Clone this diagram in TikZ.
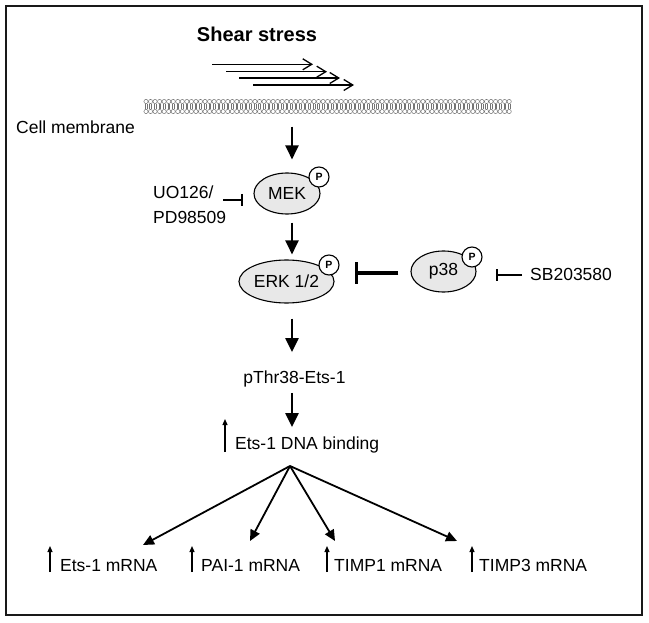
\documentclass[tikz,border=0pt]{standalone}
\usepackage{fontspec}
\setmainfont{Liberation Sans}
\usetikzlibrary{arrows.meta,shapes.geometric,calc}
\begin{document}
\begin{tikzpicture}[x=1pt,y=-1pt,
 lbl/.style={font=\fontsize{17.5}{21}\selectfont, inner sep=0pt},
 prot/.style={ellipse, draw, line width=1.1pt, fill=black!9, inner sep=0pt, font=\fontsize{17.5}{21}\selectfont},
 phos/.style={circle, draw, line width=1.1pt, fill=white, minimum size=20pt, inner sep=0pt, font=\bfseries\fontsize{10.5}{12}\selectfont},
 main/.style={line width=2.2pt, -{Triangle[length=14pt,width=13pt]}},
 inhib/.style={line width=2pt, -{Bar[width=12pt]}},
 fan/.style={line width=1.8pt, -{Triangle[length=11pt,width=10pt]}},
 up/.style={line width=1.2pt, -{Triangle[length=6pt,width=5pt]}},
 shear/.style={line width=1.3pt, -{Straight Barb[length=9pt,width=11pt]}},
 lip/.style={draw=black!55, line width=0.5pt},
]
\useasboundingbox (0,0) rectangle (649,623);
\draw[line width=2.6pt, draw=black!90] (6,6) rectangle (642,615);

% title and shear arrows
\node[font=\bfseries\fontsize{20}{24}\selectfont, inner sep=0pt, anchor=base] (title) at (257,42) {Shear stress};
\draw[shear] (212,64.3) -- (313,64.3);
\draw[shear] (226,71.7) -- (327,71.7);
\draw[shear] (239,78) -- (340,78);
\draw[shear] (253,85) -- (354,85);

% membrane
\node[minimum width=366pt, minimum height=14pt, inner sep=0pt] (memb) at (326,106.5) {};
\foreach \i in {0,...,80}{
  \pgfmathsetmacro\xx{146+\i*4.54}
  \draw[lip] (\xx,101.5) circle (2.1pt);
  \draw[lip] (\xx,111.5) circle (2.1pt);
  \draw[lip] (\xx-0.8,103.6) -- (\xx-0.8,109.4) (\xx+0.8,103.6) -- (\xx+0.8,109.4);
}
\node[lbl, anchor=base west] (cm) at (16,134) {Cell membrane};

% proteins
\node[prot, minimum width=66pt, minimum height=41pt] (mek) at (287,193.5) {MEK};
\node[phos] (pm) at (319,177) {P};
\node[prot, minimum width=95pt, minimum height=43pt] (erk) at (286.5,281.5) {ERK 1/2};
\node[phos] (pe) at (329,265) {P};
\node[prot, minimum width=65pt, minimum height=41pt] (p38) at (443.5,271.5) {p38};
\node[phos] (pp) at (472,257) {P};

% inhibitors
\node[lbl, anchor=west, align=left] (uo) at (153,204.5) {UO126/\\[3.5pt]PD98509};
\coordinate (ui) at (223,200);
\draw[inhib] (ui) -- (ui -| mek.west) [shorten >=10pt];
\node[lbl, anchor=base west] (sb) at (530,281) {SB203580};
\draw[inhib] ($(sb.west)+(-8,0)$) -- ($(sb.west -| p38.east)$) [shorten >=19pt];
\draw[line width=3.6pt, -{Bar[width=22pt]}, shorten <=12pt, shorten >=20pt] (p38.west |- 0,273) -- (erk.east |- 0,273);

% spine
\coordinate (sp) at (292,0);
\node[lbl, anchor=base] (pthr) at (294.5,383) {pThr38-Ets-1};
\node[lbl, anchor=base west] (dna) at (235,449) {Ets-1 DNA binding};
\draw[main] ($(memb.south -| sp)+(0,13)$) -- ($(mek.north -| sp)+(0,-13)$);
\draw[main] ($(mek.south -| sp)+(0,8)$) -- ($(erk.north -| sp)+(0,-5)$);
\draw[main] ($(erk.south -| sp)+(0,15)$) -- ($(pthr.north -| sp)+(0,-18)$);
\draw[main] ($(pthr.south -| sp)+(0,6)$) -- ($(dna.north -| sp)+(0,-9)$);
\draw[up] (225,452) -- (225,419);

% targets
\node[lbl, anchor=base west] (l1) at (60,571) {Ets-1 mRNA};
\node[lbl, anchor=base west] (l2) at (201,571) {PAI-1 mRNA};
\node[lbl, anchor=base west] (l3) at (334,571) {TIMP1 mRNA};
\node[lbl, anchor=base west] (l4) at (479,571) {TIMP3 mRNA};
\draw[up] (50,572) -- (50,546);
\draw[up] (192,572) -- (192,546);
\draw[up] (327,572) -- (327,546);
\draw[up] (472,572) -- (472,546);

\coordinate (f0) at (290,466);
\coordinate (e1) at (143,545);
\coordinate (e2) at (250,541);
\coordinate (e3) at (335,541);
\coordinate (e4) at (457,541);
\draw[fan] (f0) -- (e1);
\draw[fan] (f0) -- (e2);
\draw[fan] (f0) -- (e3);
\draw[fan] (f0) -- (e4);
\end{tikzpicture}
\end{document}
